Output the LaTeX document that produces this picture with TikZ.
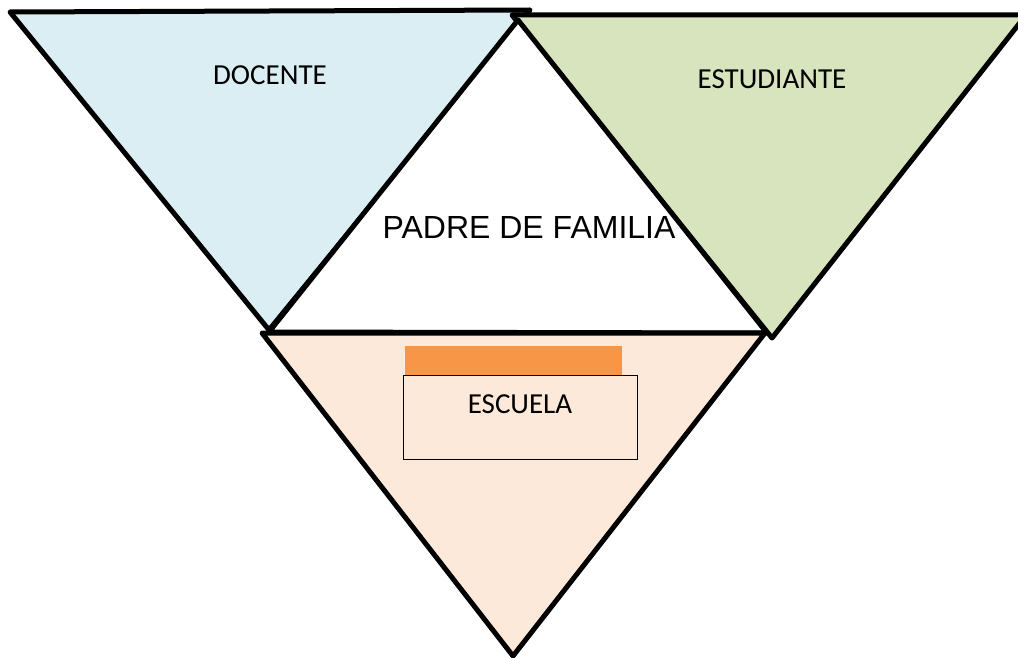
\documentclass[tikz,border=0pt]{standalone}
\usepackage{fontspec}
\setmainfont{Carlito}
\newfontfamily\arialf{Liberation Sans}
\definecolor{cblue}{HTML}{DAEEF3}
\definecolor{cgreen}{HTML}{D7E4BD}
\definecolor{cpeach}{HTML}{FDE9D9}
\definecolor{corange}{HTML}{F79646}
\begin{document}
\begin{tikzpicture}[x=1pt,y=-1pt,
  tri/.style={draw=black,line width=5pt,line join=round},
  lbl/.style={font=\fontsize{29}{32}\selectfont,inner sep=0pt,anchor=base}]
\useasboundingbox (0,0) rectangle (1018,658);
% left triangle
\draw[tri,fill=cblue] (10,12) -- (530,10) -- (269,330) -- cycle;
% right triangle
\draw[tri,fill=cgreen] (512,15) -- (1026,15) -- (772,338) -- cycle;
% middle triangle
\draw[tri,fill=white] (518,20) -- (767,333) -- (269,332) -- cycle;
% bottom triangle
\draw[tri,fill=cpeach] (262,333) -- (765,333) -- (513,656) -- cycle;
% orange bar and box
\fill[corange] (405,346) rectangle (622,375);
\node[draw=black,line width=1pt,fill=cpeach,minimum width=234pt,minimum height=84pt,inner sep=0pt,anchor=north west] (box) at (403,375) {};
\node[lbl] (escuela) at (520,413) {ESCUELA};
\node[lbl] (docente) at (270,85) {DOCENTE};
\node[lbl] (estudiante) at (772,89) {ESTUDIANTE};
\node[font=\arialf\fontsize{32}{36}\selectfont,inner sep=0pt,anchor=base] (padre) at (529,238) {PADRE DE FAMILIA};
\end{tikzpicture}
\end{document}
